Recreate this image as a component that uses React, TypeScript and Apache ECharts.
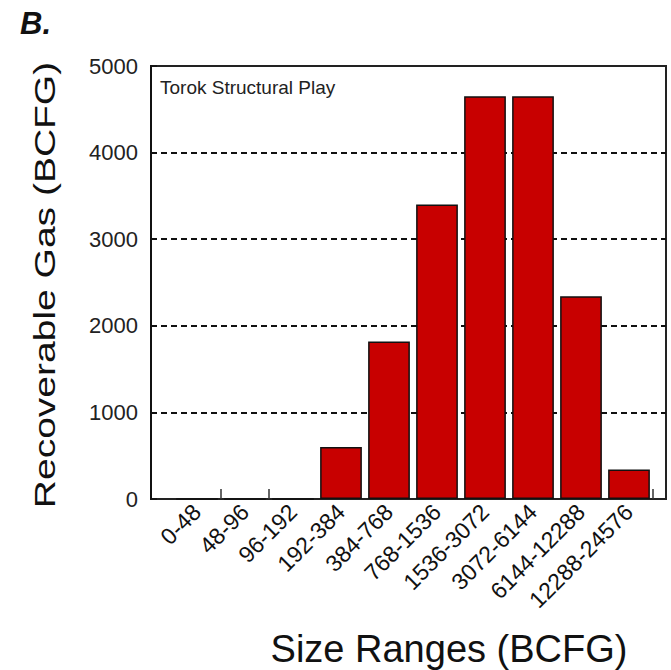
import React, { useEffect, useRef } from "react";
import * as echarts from "echarts";

const categories = [
  "0-48",
  "48-96",
  "96-192",
  "192-384",
  "384-768",
  "768-1536",
  "1536-3072",
  "3072-6144",
  "6144-12288",
  "12288-24576",
];
const recoverableGas = [0, 0, 0, 600, 1820, 3400, 4650, 4650, 2340, 340];
const yTicks = { min: 0, max: 5000, interval: 1000 };

const FONT = "'Liberation Sans', Arial, Helvetica, sans-serif";

export default function App() {
  const ref = useRef<HTMLDivElement>(null);

  useEffect(() => {
    if (!ref.current) return;
    const chart = echarts.init(ref.current, undefined, { renderer: "svg" });
    chart.setOption({
      animation: false,
      backgroundColor: "#ffffff",
      grid: [
        {
          left: 151,
          right: 5,
          top: 66,
          bottom: 171,
          show: true,
          borderColor: "#222",
          borderWidth: 2,
          backgroundColor: "transparent",
        },
        { left: 173, right: 18, top: 66, bottom: 171 },
      ],
      xAxis: [
        { gridIndex: 0, type: "value", min: 0, max: 1, show: false },
        {
          gridIndex: 1,
          type: "category",
          data: categories,
          boundaryGap: true,
          axisLine: { show: false },
          axisTick: {
            show: true,
            inside: true,
            length: 10,
            interval: (i: number) => i === 1 || i === 2,
            lineStyle: { color: "#333", width: 1.5 },
          },
          axisLabel: {
            interval: 0,
            rotate: 45,
            margin: 9,
            fontSize: 23,
            fontFamily: FONT,
            color: "#111",
          },
          splitLine: { show: false },
        },
      ],
      yAxis: [
        {
          gridIndex: 0,
          type: "value",
          min: yTicks.min,
          max: yTicks.max,
          interval: yTicks.interval,
          axisLine: { show: true, lineStyle: { color: "#111", width: 2 } },
          axisTick: {
            show: true,
            inside: true,
            length: 6,
            lineStyle: { color: "#111", width: 1.5 },
          },
          axisLabel: {
            margin: 13,
            fontSize: 22,
            fontFamily: FONT,
            color: "#222",
            formatter: (v: number) => String(v),
          },
          splitLine: {
            show: true,
            showMinLine: false,
            showMaxLine: false,
            lineStyle: { color: "#111", width: 2, type: [6, 4] },
          },
        },
        {
          gridIndex: 1,
          type: "value",
          min: yTicks.min,
          max: yTicks.max,
          interval: yTicks.interval,
          show: false,
          splitLine: { show: false },
        },
      ],
      series: [
        {
          type: "bar",
          xAxisIndex: 1,
          yAxisIndex: 1,
          data: recoverableGas,
          barCategoryGap: "13%",
          itemStyle: { color: "#c80000", borderColor: "#111", borderWidth: 1.5 },
          z: 3,
        },
      ],
      graphic: [
        {
          type: "text",
          x: 20,
          y: 23,
          style: {
            text: "B.",
            fontSize: 31,
            fontWeight: "bold",
            fontStyle: "italic",
            fontFamily: FONT,
            fill: "#111",
            align: "left",
            verticalAlign: "middle",
          },
        },
        {
          type: "text",
          x: 160,
          y: 87,
          z: 10,
          style: {
            text: "Torok Structural Play",
            fontSize: 19,
            fontFamily: FONT,
            fill: "#222",
            align: "left",
            verticalAlign: "middle",
          },
        },
        {
          type: "text",
          x: 45,
          y: 285,
          rotation: Math.PI / 2,
          scaleX: 1.3,
          style: {
            text: "Recoverable Gas (BCFG)",
            fontSize: 30,
            fontFamily: FONT,
            fill: "#111",
            align: "center",
            verticalAlign: "middle",
          },
        },
        {
          type: "text",
          x: 449,
          y: 649,
          style: {
            text: "Size Ranges (BCFG)",
            fontSize: 38,
            fontFamily: FONT,
            fill: "#111",
            align: "center",
            verticalAlign: "middle",
          },
        },
      ],
    });
    return () => chart.dispose();
  }, []);

  return (
    <div
      ref={ref}
      style={{ position: "fixed", left: 0, top: 0, width: 671, height: 670 }}
    />
  );
}
